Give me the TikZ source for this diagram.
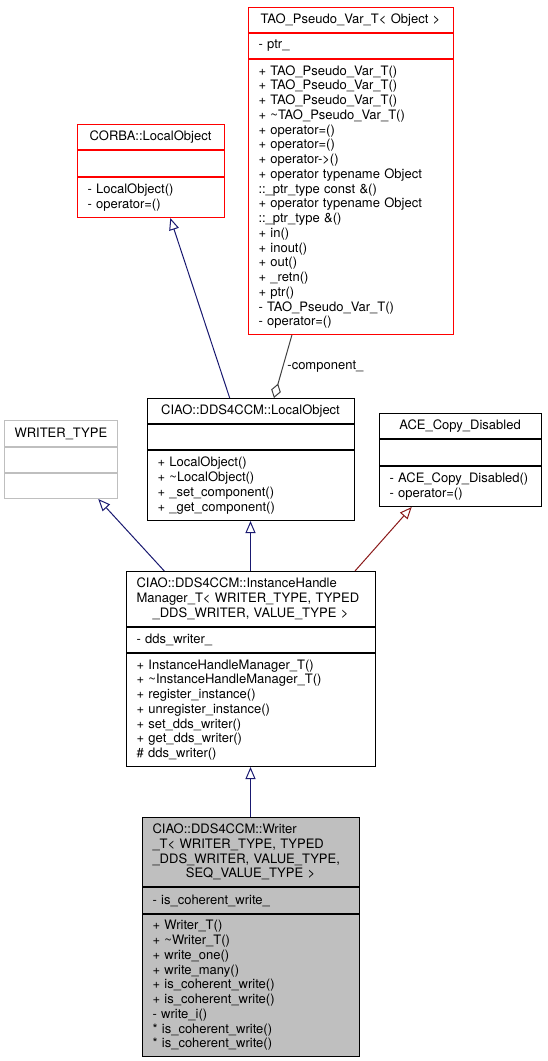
\documentclass[tikz,border=0pt]{standalone}
\usepackage{fontspec}
\setmainfont{TeX Gyre Heros}
\usepackage{tikz}
\usetikzlibrary{positioning}
\usetikzlibrary{arrows.meta}
\definecolor{navy}{RGB}{25,25,112}
\definecolor{darkred}{RGB}{139,26,26}
\definecolor{aggrgray}{RGB}{64,64,64}
\definecolor{boxgray}{RGB}{191,191,191}
\newcommand{\umlfont}{\fontsize{13}{14.75}\selectfont}
\tikzstyle{umlpart} = [rectangle, draw=black, line width=1pt, inner xsep=10.5pt,
inner ysep=1pt, font=\umlfont, align=left]
\tikzstyle{umltitle} = [umlpart, align=center]
\tikzstyle{redbox} = [draw=red]
\tikzstyle{greybox} = [draw=boxgray]
\tikzstyle{shadedbox} = [fill=boxgray]
\tikzstyle{caption} = [font=\umlfont, inner sep=4pt]
\tikzset{>={Triangle[open,length=12pt,width=10pt]}}
\newcommand{\inherit}[3][]{ %
  % Connect all derived nodes #2 to all base nodes #3.
  \foreach \x in {#2} { %
    \foreach \y in {#3} { %
      \path (\x) edge [->,line width=1pt,draw=navy,#1] (\y) ;%
    } ;
  } ;
}

\begin{document}
\begin{tikzpicture}[x=1pt,y=-1pt]
  \useasboundingbox (0,0) rectangle (547,1061);

  % TAO_Pseudo_Var_T
  \node[umltitle, redbox, anchor=north, text width=184pt, minimum height=25pt] (tao) at (350.5,7) {TAO\_Pseudo\_Var\_T< Object >}; %
  \node[umlpart, redbox, below=0pt of tao, text width=184pt, minimum height=25pt] (tao-attr) {- ptr\_}; %
  \node[umlpart, redbox, below=0pt of tao-attr, text width=184pt, minimum height=275pt] (tao-ops) {+ TAO\_Pseudo\_Var\_T()\\+ TAO\_Pseudo\_Var\_T()\\+ TAO\_Pseudo\_Var\_T()\\+ \textasciitilde{}TAO\_Pseudo\_Var\_T()\\+ operator=()\\+ operator=()\\+ operator->()\\+ operator typename Object\\::\_ptr\_type const \&()\\+ operator typename Object\\::\_ptr\_type \&()\\+ in()\\+ inout()\\+ out()\\+ \_retn()\\+ ptr()\\- TAO\_Pseudo\_Var\_T()\\- operator=()}; %

  % CORBA::LocalObject
  \node[umltitle, redbox, anchor=north, text width=126pt, minimum height=25pt] (corba) at (150.5,124) {CORBA::LocalObject}; %
  \node[umlpart, redbox, below=0pt of corba, text width=126pt, minimum height=26pt] (corba-attr) {}; %
  \node[umlpart, redbox, below=0pt of corba-attr, text width=126pt, minimum height=40pt] (corba-ops) {- LocalObject()\\- operator=()}; %

  % CIAO::DDS4CCM::LocalObject
  \node[umltitle, anchor=north, text width=186pt, minimum height=25pt] (clo) at (250.5,398) {CIAO::DDS4CCM::LocalObject}; %
  \node[umlpart, below=0pt of clo, text width=186pt, minimum height=25pt] (clo-attr) {}; %
  \node[umlpart, below=0pt of clo-attr, text width=186pt, minimum height=70pt] (clo-ops) {+ LocalObject()\\+ \textasciitilde{}LocalObject()\\+ \_set\_component()\\+ \_get\_component()}; %

  % WRITER_TYPE
  \node[umltitle, greybox, anchor=north, text width=92pt, minimum height=26pt] (wtype) at (60.5,420) {WRITER\_TYPE}; %
  \node[umlpart, greybox, below=0pt of wtype, text width=92pt, minimum height=25pt] (wtype-attr) {}; %
  \node[umlpart, greybox, below=0pt of wtype-attr, text width=92pt, minimum height=25pt] (wtype-ops) {}; %

  % ACE_Copy_Disabled
  \node[umltitle, anchor=north, text width=141pt, minimum height=25pt] (ace) at (460,413) {ACE\_Copy\_Disabled}; %
  \node[umlpart, below=0pt of ace, text width=141pt, minimum height=26pt] (ace-attr) {}; %
  \node[umlpart, below=0pt of ace-attr, text width=141pt, minimum height=40pt] (ace-ops) {- ACE\_Copy\_Disabled()\\- operator=()}; %

  % InstanceHandleManager_T
  \node[umlpart, anchor=north, text width=228pt, minimum height=55pt] (ihm) at (250.5,571) {CIAO::DDS4CCM::InstanceHandle\\Manager\_T< WRITER\_TYPE, TYPED\\\makebox[\linewidth]{\_DDS\_WRITER, VALUE\_TYPE >}}; %
  \node[umlpart, below=0pt of ihm, text width=228pt, minimum height=25pt] (ihm-attr) {- dds\_writer\_}; %
  \node[umlpart, below=0pt of ihm-attr, text width=228pt, minimum height=113pt] (ihm-ops) {+ InstanceHandleManager\_T()\\+ \textasciitilde{}InstanceHandleManager\_T()\\+ register\_instance()\\+ unregister\_instance()\\+ set\_dds\_writer()\\+ get\_dds\_writer()\\\# dds\_writer()}; %

  % Writer_T
  \node[umlpart, shadedbox, anchor=north, text width=196pt, minimum height=69pt] (writer) at (250.5,817) {CIAO::DDS4CCM::Writer\\\_T< WRITER\_TYPE, TYPED\\\_DDS\_WRITER, VALUE\_TYPE,\\\makebox[\linewidth]{SEQ\_VALUE\_TYPE >}}; %
  \node[umlpart, shadedbox, below=0pt of writer, text width=196pt, minimum height=26pt] (writer-attr) {- is\_coherent\_write\_}; %
  \node[umlpart, shadedbox, below=0pt of writer-attr, text width=196pt, minimum height=142pt] (writer-ops) {+ Writer\_T()\\+ \textasciitilde{}Writer\_T()\\+ write\_one()\\+ write\_many()\\+ is\_coherent\_write()\\+ is\_coherent\_write()\\- write\_i()\\{}* is\_coherent\_write()\\{}* is\_coherent\_write()}; %

  \inherit{clo.148.6} {corba-ops.314.3};
  \inherit{ihm.162.55} {wtype-ops.341.57};
  \inherit{ihm} {clo-ops};
  \inherit[draw=darkred]{ihm.15.9} {ace-ops.203.96};
  \inherit{writer} {ihm-ops};
  \path (tao-ops.247.7) edge[-{Diamond[open,length=15pt,width=10pt]}, line width=1pt, draw=aggrgray] node[caption, right, midway] {-component\_} (clo.29.05);
\end{tikzpicture}
\end{document}
